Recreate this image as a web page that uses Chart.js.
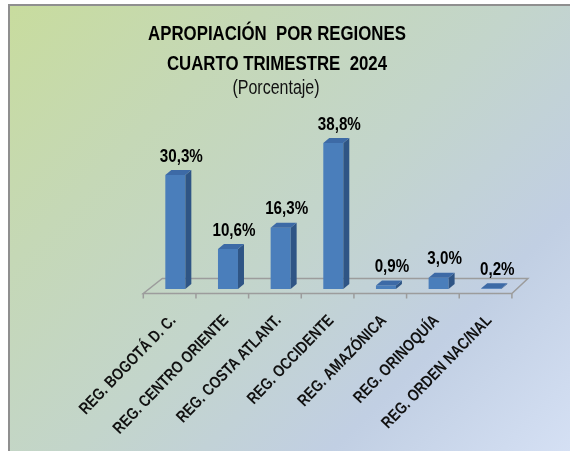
<!DOCTYPE html>
<html>
<head>
<meta charset="utf-8">
<script src="https://cdn.jsdelivr.net/npm/chart.js@4"></script>
<style>
  html, body { margin: 0; padding: 0; background: #fff; overflow: hidden; }
  #marco {
    position: absolute; left: 8px; top: 4px; width: 570px; height: 451px;
    border-left: 2px solid #8f8f8f; border-top: 2px solid #8f8f8f;
    background: linear-gradient(135deg, #c8dc9e 0%, #c5d8b6 25%, #c3d5cb 50%, #c1cfe3 75%, #d6e1f5 100%);
  }
  #grafico { position: absolute; left: 0; top: 0; }
</style>
</head>
<body>
<div id="marco"></div>
<canvas id="grafico" width="570" height="451"></canvas>
<script>
// Datos
const regiones = ['REG. BOGOTÁ D. C.', 'REG. CENTRO ORIENTE', 'REG. COSTA ATLANT.', 'REG. OCCIDENTE',
  'REG. AMAZÓNICA', 'REG. ORINOQUÍA', 'REG. ORDEN NAC/NAL'];
const porcentajes = [30.3, 10.6, 16.3, 38.8, 0.9, 3.0, 0.2];
const tituloLineas = ['APROPIACIÓN  POR REGIONES', 'CUARTO TRIMESTRE  2024'];
const subtitulo = '(Porcentaje)';

const FONT = '"Liberation Sans", Arial, sans-serif';
const ESTRECHO = 0.82;   // simula una fuente condensada tipo Calibri
const dx = 6, dy = -5;

const fmt = v => v.toFixed(1).replace('.', ',') + '%';

// texto condensado horizontalmente
function texto(ctx, s, x, y, font, align, angulo) {
  ctx.save();
  ctx.translate(x, y);
  if (angulo) ctx.rotate(angulo);
  ctx.scale(ESTRECHO, 1);
  ctx.font = font;
  ctx.textAlign = align;
  ctx.textBaseline = 'middle';
  ctx.fillText(s, 0, 0);
  ctx.restore();
}

// Piso 3D con marcas
const piso = {
  id: 'piso',
  beforeDatasetsDraw(chart) {
    const { ctx, chartArea } = chart;
    const shift = 5.7;
    const left = chartArea.left - shift, right = chartArea.right - shift;
    const front = chartArea.bottom + 4.5, back = front - 15;
    ctx.save();
    ctx.strokeStyle = '#9c9c9c';
    ctx.lineWidth = 1.5;
    ctx.beginPath();
    ctx.moveTo(left, front);
    ctx.lineTo(right, front);
    ctx.lineTo(right + 16, back);
    ctx.lineTo(left + 19, back);
    ctx.closePath();
    ctx.stroke();
    const w = (right - left) / regiones.length;
    ctx.beginPath();
    for (let i = 0; i <= regiones.length; i++) {
      ctx.moveTo(left + i * w, front);
      ctx.lineTo(left + i * w, front + 5);
    }
    ctx.stroke();
    ctx.restore();
  }
};

// Caras laterales, superiores, etiquetas y títulos
const caras = {
  id: 'caras',
  afterDatasetsDraw(chart) {
    const ctx = chart.ctx;
    const xs = chart.scales.x;
    ctx.save();
    chart.getDatasetMeta(0).data.forEach((bar, i) => {
      const { x, y, base, width } = bar.getProps(['x', 'y', 'base', 'width'], true);
      const l = x - width / 2, r = x + width / 2;
      ctx.fillStyle = '#2f5585';
      ctx.beginPath();
      ctx.moveTo(r, y); ctx.lineTo(r + dx, y + dy); ctx.lineTo(r + dx, base + dy); ctx.lineTo(r, base);
      ctx.closePath(); ctx.fill();
      ctx.fillStyle = '#3d6aa6';
      ctx.beginPath();
      ctx.moveTo(l, y); ctx.lineTo(l + dx, y + dy); ctx.lineTo(r + dx, y + dy); ctx.lineTo(r, y);
      ctx.closePath(); ctx.fill();

      ctx.fillStyle = '#000';
      texto(ctx, fmt(porcentajes[i]), x + 6, y - 18.5, 'bold 18.5px ' + FONT, 'center');
    });

    // etiquetas de categoría
    ctx.fillStyle = '#111';
    chart.data.labels.forEach((lab, i) => {
      const px = xs.getPixelForTick(i);
      texto(ctx, lab, px - 2, 318, 'bold 16.5px ' + FONT, 'right', -46 * Math.PI / 180);
    });

    // títulos
    ctx.fillStyle = '#000';
    texto(ctx, tituloLineas[0], 277, 34, 'bold 20.5px ' + FONT, 'center');
    texto(ctx, tituloLineas[1], 277, 64, 'bold 20.5px ' + FONT, 'center');
    ctx.fillStyle = '#111';
    texto(ctx, subtitulo, 276, 89, '19.5px ' + FONT, 'center');
    ctx.restore();
  }
};

new Chart(document.getElementById('grafico'), {
  type: 'bar',
  data: {
    labels: regiones,
    datasets: [{
      data: porcentajes,
      backgroundColor: '#4a7ebb',
      borderWidth: 0,
      barPercentage: 0.38,
      categoryPercentage: 1
    }]
  },
  options: {
    responsive: false,
    animation: false,
    layout: { padding: { left: 149, right: 52.4, top: 138.5, bottom: 0 } },
    plugins: {
      legend: { display: false },
      tooltip: { enabled: false }
    },
    scales: {
      x: {
        grid: { display: false, drawTicks: false },
        border: { display: false },
        ticks: { display: false },
        afterFit(s) { s.height = 162; }
      },
      y: { display: false, min: 0, max: 40 }
    }
  },
  plugins: [piso, caras]
});
</script>
</body>
</html>
